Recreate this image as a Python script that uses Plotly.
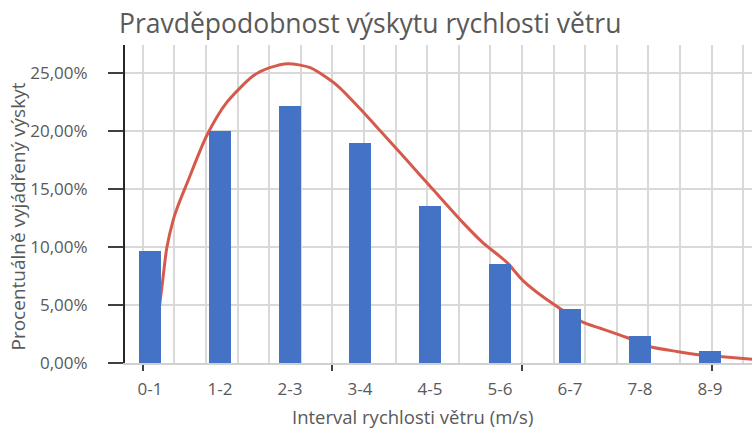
import plotly.graph_objects as go

# ---- data ----
intervals = ["0-1", "1-2", "2-3", "3-4", "4-5", "5-6", "6-7", "7-8", "8-9"]
share = [0.097, 0.2005, 0.2215, 0.190, 0.136, 0.0855, 0.047, 0.023, 0.0105]

curve_speed = [0.15, 0.305, 0.38, 0.48, 0.56, 0.70, 1.01, 1.33, 1.75, 2.01, 2.30,
               2.65, 3.07, 3.44, 3.75, 4.18, 4.59, 5.07, 5.38, 5.76, 6.02, 6.52,
               6.97, 7.24, 7.66, 8.03, 8.45, 8.82, 9.13, 9.64]
curve_share = [0.0, 0.066, 0.099, 0.123, 0.136, 0.155, 0.196, 0.225, 0.248, 0.255, 0.2585,
               0.255, 0.240, 0.2195, 0.201, 0.175, 0.150, 0.121, 0.104, 0.087, 0.071, 0.050,
               0.035, 0.030, 0.022, 0.014, 0.010, 0.007, 0.0056, 0.0033]

y_ticks = [0, 0.05, 0.10, 0.15, 0.20, 0.25]

title_text = "Pravděpodobnost výskytu rychlosti větru"
x_title = "Interval rychlosti větru (m/s)"
y_title = "Procentuálně vyjádřený výskyt"

# ---- figure ----
W, H = 752, 430
L, R, T, B = 125, 0, 45, 67
plot_w = W - L - R
plot_h = H - T - B

FONT = "Open Sans"
GRAY = "#595959"
GRID = "#d9d9d9"

fig = go.Figure()
fig.add_trace(go.Scatter(
    x=curve_speed, y=curve_share, xaxis="x", yaxis="y", mode="lines",
    line=dict(color="#D65A4C", width=3, shape="spline", smoothing=0.7),
    hoverinfo="skip", showlegend=False))
fig.add_trace(go.Bar(
    x=intervals, y=share, xaxis="x2", yaxis="y",
    marker=dict(color="#4472C4", line=dict(width=0)), width=0.32, showlegend=False))

fig.update_layout(
    width=W, height=H,
    margin=dict(l=L, r=R, t=T, b=B),
    paper_bgcolor="white", plot_bgcolor="white",
    separators=", ",
    font=dict(family=FONT, color=GRAY, size=17),
    showlegend=False,
    title=dict(text=title_text, xref="container", yref="container",
               x=119 / W, xanchor="left", y=1 - 24 / H, yanchor="middle",
               font=dict(family=FONT, size=26.5, color=GRAY)),
    xaxis=dict(type="linear", range=[-0.28, 9.64], showgrid=True, gridcolor=GRID,
               gridwidth=2, tick0=0, dtick=3, ticks="outside", ticklen=6, tickwidth=2,
               tickcolor="#404040", showticklabels=False,
               minor=dict(tick0=0, dtick=0.5, showgrid=True, gridcolor=GRID, gridwidth=2, ticks=""),
               showline=True, linecolor="#d0d0d0", linewidth=2, zeroline=False),
    xaxis2=dict(type="category", overlaying="x", side="bottom", anchor="y",
                range=[-0.357, 8.6], showgrid=False, ticks="", showline=False,
                zeroline=False, tickfont=dict(family=FONT, size=17, color=GRAY),
                ticklabelstandoff=14),
    yaxis=dict(range=[0, 0.2746], tickvals=y_ticks, tickformat=".2%",
               showgrid=True, gridcolor=GRID, gridwidth=2, ticks="outside",
               ticklen=15, tickwidth=2, tickcolor="#404040",
               showline=True, linecolor="#262626", linewidth=2, zeroline=False,
               tickfont=dict(family=FONT, size=17, color=GRAY), ticklabelstandoff=17),
    bargap=0,
    annotations=[
        dict(text=x_title, xref="paper", yref="paper", x=(412.5 - L) / plot_w,
             y=-(416 - (T + plot_h)) / plot_h, xanchor="center", yanchor="middle",
             showarrow=False, font=dict(family=FONT, size=18.5, color=GRAY)),
        dict(text=y_title, xref="paper", yref="paper", x=(18 - L) / plot_w,
             y=((T + plot_h) - 216.5) / plot_h, xanchor="center", yanchor="middle",
             textangle=-90, showarrow=False, font=dict(family=FONT, size=19, color=GRAY)),
    ],
)

fig.write_html("out.html", config={"displayModeBar": False},
               post_script="document.body.style.margin='0';")
